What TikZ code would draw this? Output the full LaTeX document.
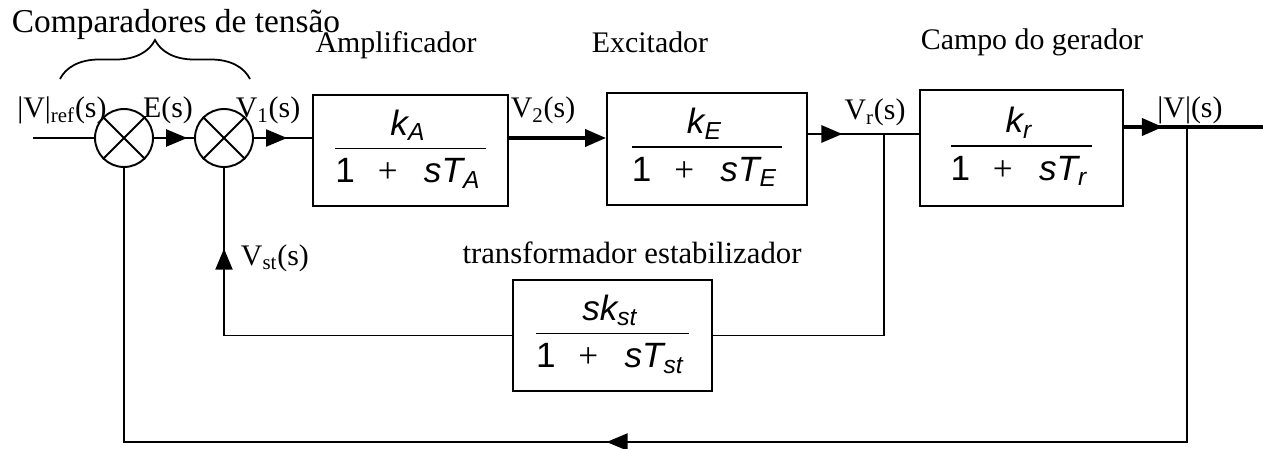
\documentclass[tikz,border=0pt]{standalone}
\usepackage{fontspec}
\setmainfont{Liberation Serif}
\setsansfont{Liberation Sans}
\usetikzlibrary{arrows.meta,decorations.markings,decorations.pathreplacing}

% block transfer function: k / (1 + sT)
\newcommand{\blkfrac}[2]{\setlength{\arrayrulewidth}{1pt}%
  \begin{tabular}{@{}c@{\hspace{3pt}}}{\itshape #1}\\\hline
  \rule{0pt}{19pt}1\hspace{.65em}{\rmfamily +}\hspace{.75em}{\itshape sT\textsubscript{#2}}\end{tabular}}

\begin{document}
\begin{tikzpicture}[x=0.02cm, y=-0.02cm, line width=1.1pt,
  tri/.tip={Triangle[length=0.42cm, width=0.34cm]},
  blk/.style={draw, inner sep=0pt, font=\sffamily\fontsize{20}{24}\selectfont},
  sum/.style={draw, circle, minimum size=1.16cm, inner sep=0pt},
  lbl/.style={font=\fontsize{17}{20}\selectfont, inner sep=0pt, anchor=base},
  midarrow/.style={postaction={decorate, decoration={markings,
    mark=at position #1 with {\arrow{tri}}}}}]
  \useasboundingbox (0,0) rectangle (1263,449);

  % comparators
  \node[sum] (c1) at (124,138) {};
  \node[sum] (c2) at (224,138) {};
  \draw (c1.north west) -- (c1.south east) (c1.north east) -- (c1.south west);
  \draw (c2.north west) -- (c2.south east) (c2.north east) -- (c2.south west);

  % blocks
  \node[blk, minimum width=3.9cm, minimum height=2.22cm] (A) at (410.5,150.5) {\blkfrac{k\textsubscript{A}}{A}};
  \node[blk, minimum width=4cm, minimum height=2.24cm] (E) at (707,149) {\blkfrac{k\textsubscript{E}}{E}};
  \node[blk, minimum width=4.06cm, minimum height=2.32cm] (r) at (1021.5,148) {\blkfrac{k\textsubscript{r}}{r}};
  \node[blk, minimum width=3.98cm, minimum height=2.22cm] (st) at (612.5,335.5) {\blkfrac{sk\textsubscript{st}}{st}};

  \coordinate (in) at (33,138);
  \coordinate (vr) at (884,134);
  \coordinate (vo) at (1187,127);
  \coordinate (out) at (1263,127);
  \coordinate (fb) at (1187,442);

  % forward path
  \draw (in) -- (c1.west);
  \draw[midarrow=0.83] (c1.east) -- (c2.west);
  \draw[midarrow=0.57] (c2.east) -- (c2.east -| A.west);
  \draw[line width=2.2pt, -tri] (c2.east -| A.east) -- (c2.east -| E.west);
  \draw[line width=1.7pt, midarrow=0.31] (vr -| E.east) -- (vr -| r.west);
  \draw[line width=2.2pt, midarrow=0.28] (vo -| r.east) -- (out);

  % feedback paths
  \draw (vr) -- (vr |- st.east) -- (st.east);
  \draw[midarrow=0.823] (st.west) -- (st.west -| c2) -- (c2.south);
  \draw[midarrow=0.542] (vo) -- (fb) -- (fb -| c1) -- (c1.south);

  % signals
  \node[lbl] (lref) at (62,118) {|V|\textsubscript{ref}(s)};
  \node[lbl] (lE) at (168,118) {E(s)};
  \node[lbl] (l1) at (268,118) {V\textsubscript{1}(s)};
  \node[lbl] (l2) at (543,118) {V\textsubscript{2}(s)};
  \node[lbl] (lr) at (875,120) {V\textsubscript{r}(s)};
  \node[lbl] (lo) at (1190,118) {|V|(s)};
  \node[lbl, anchor=base west] (lst) at (240,265) {V\textsubscript{st}(s)};

  % titles
  \node[lbl, font=\fontsize{19}{22}\selectfont] (tcomp) at (176,33) {Comparadores de tensão};
  \draw[line width=1pt, decorate, decoration={brace, amplitude=0.78cm}] (60,79) -- (250,79);
  \node[lbl] (tamp) at (396,53) {Amplificador};
  \node[lbl] (texc) at (650,53) {Excitador};
  \node[lbl] (tcampo) at (1032,50) {Campo do gerador};
  \node[lbl, font=\fontsize{17.5}{20}\selectfont] (tstab) at (632,263) {transformador estabilizador};
\end{tikzpicture}
\end{document}
